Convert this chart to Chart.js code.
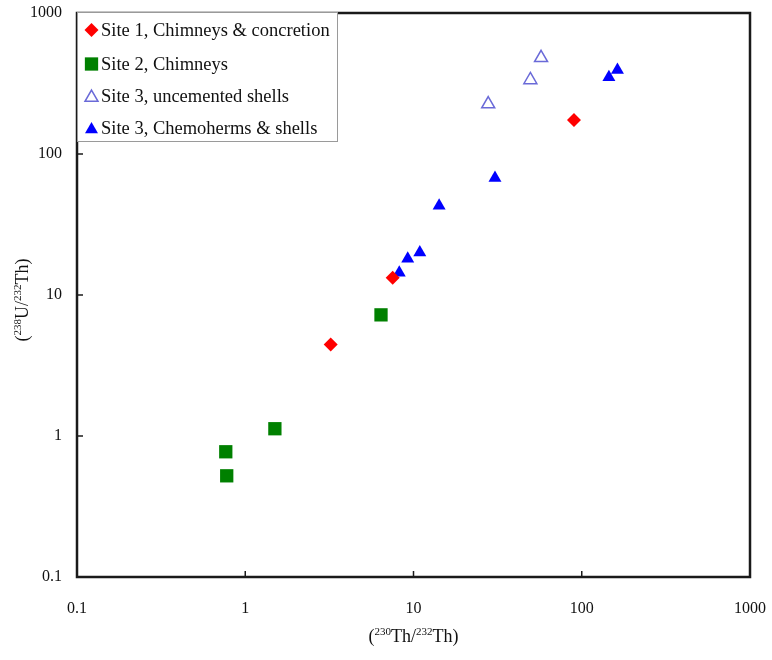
<!DOCTYPE html>
<html>
<head>
<meta charset="utf-8">
<script src="https://cdn.jsdelivr.net/npm/chart.js@4.4.1/dist/chart.umd.min.js"></script>
<style>
  html, body { margin: 0; padding: 0; background: #fff; }
  #wrap { width: 772px; height: 660px; }
</style>
</head>
<body>
<div id="wrap"><canvas id="chart" width="772" height="660"></canvas></div>
<script>
/* ---------- DATA ---------- */
const site1X = [3.22, 7.52, 89.9];
const site1Y = [4.45, 13.25, 174];
const site2X = [0.766, 0.776, 1.50, 6.41];
const site2Y = [0.773, 0.522, 1.126, 7.23];
const site3uX = [27.8, 49.5, 57.3];
const site3uY = [226, 335, 481];
const site3cX = [8.23, 9.24, 10.9, 14.2, 30.5, 145, 163];
const site3cY = [14.4, 18.1, 20.0, 42.9, 67.5, 350, 395];
const tickValues = [0.1, 1, 10, 100, 1000];
const seriesNames = [
  'Site 1, Chimneys & concretion',
  'Site 2, Chimneys',
  'Site 3, uncemented shells',
  'Site 3, Chemoherms & shells'
];

const pts = (xs, ys) => xs.map((x, i) => ({ x, y: ys[i] }));
const FONT = "'Liberation Serif', 'Times New Roman', serif";

/* ---------- HELPERS ---------- */
// draw text made of normal + superscript parts, centred on (cx, cy)
function drawSupText(ctx, parts, cx, cy, size) {
  const supSize = Math.round(size * 0.62);
  let total = 0;
  parts.forEach(p => {
    ctx.font = `${p.sup ? supSize : size}px ${FONT}`;
    p.w = ctx.measureText(p.t).width;
    total += p.w;
  });
  let x = cx - total / 2;
  ctx.textAlign = 'left';
  ctx.textBaseline = 'alphabetic';
  parts.forEach(p => {
    ctx.font = `${p.sup ? supSize : size}px ${FONT}`;
    ctx.fillText(p.t, x, cy + size * 0.35 - (p.sup ? size * 0.42 : 0));
    x += p.w;
  });
}

/* ---------- FRAME + INNER TICKS ---------- */
const framePlugin = {
  id: 'frame',
  beforeDatasetsDraw(chart) {
    const { ctx, chartArea: a, scales } = chart;
    ctx.save();
    ctx.strokeStyle = '#1a1a1a';
    ctx.lineWidth = 1.5;
    tickValues.forEach(v => {
      const x = scales.x.getPixelForValue(v);
      ctx.beginPath(); ctx.moveTo(x, a.bottom); ctx.lineTo(x, a.bottom - 6); ctx.stroke();
      const y = scales.y.getPixelForValue(v);
      ctx.beginPath(); ctx.moveTo(a.left, y); ctx.lineTo(a.left + 6, y); ctx.stroke();
    });
    ctx.lineWidth = 2.5;
    ctx.strokeRect(a.left, a.top, a.right - a.left, a.bottom - a.top);

    // axis titles
    ctx.fillStyle = '#111';
    drawSupText(ctx, [
      { t: '(' }, { t: '230', sup: true }, { t: 'Th/' }, { t: '232', sup: true }, { t: 'Th)' }
    ], (a.left + a.right) / 2, 636, 18);
    ctx.save();
    ctx.translate(22, 300);
    ctx.rotate(-Math.PI / 2);
    drawSupText(ctx, [
      { t: '(' }, { t: '238', sup: true }, { t: 'U/' }, { t: '232', sup: true }, { t: 'Th)' }
    ], 0, 0, 18);
    ctx.restore();
    ctx.restore();
  }
};

/* ---------- LEGEND BOX ---------- */
const legendPlugin = {
  id: 'boxLegend',
  afterDatasetsDraw(chart) {
    const { ctx } = chart;
    ctx.save();
    ctx.fillStyle = '#fff';
    ctx.fillRect(77, 12, 261, 130);
    ctx.strokeStyle = '#9a9a9a';
    ctx.lineWidth = 1;
    ctx.strokeRect(77.5, 12.5, 260, 129);
    const rows = [30, 64, 96, 128];
    chart.data.datasets.forEach((ds, i) => {
      ctx.fillStyle = ds.backgroundColor;
      ctx.strokeStyle = ds.borderColor;
      ctx.lineWidth = ds.borderWidth;
      Chart.helpers.drawPoint(ctx, {
        pointStyle: ds.pointStyle, radius: ds.pointRadius, rotation: 0, borderWidth: ds.borderWidth
      }, 91.5, rows[i] + (ds.pointStyle === 'triangle' ? 1.5 : 0));
      ctx.fillStyle = '#111';
      ctx.font = `18.5px ${FONT}`;
      ctx.textAlign = 'left';
      ctx.textBaseline = 'middle';
      ctx.fillText(ds.label, 101, rows[i] + 1);
    });
    ctx.restore();
  }
};

/* ---------- CHART ---------- */
const axisBase = {
  type: 'logarithmic',
  min: 0.1,
  max: 1000,
  grid: { display: false },
  border: { display: false },
  afterBuildTicks: s => { s.ticks = tickValues.map(v => ({ value: v, major: true })); },
  ticks: {
    color: '#111',
    font: { family: FONT, size: 16 },
    autoSkip: false,
    maxRotation: 0,
    callback: v => String(v)
  }
};

new Chart(document.getElementById('chart'), {
  type: 'scatter',
  data: {
    datasets: [
      {
        label: seriesNames[0],
        data: pts(site1X, site1Y),
        pointStyle: 'rectRot',
        pointRadius: 7,
        backgroundColor: '#ff0000',
        borderColor: '#ff0000',
        borderWidth: 0
      },
      {
        label: seriesNames[1],
        data: pts(site2X, site2Y),
        pointStyle: 'rect',
        pointRadius: 9.4,
        backgroundColor: '#008000',
        borderColor: '#008000',
        borderWidth: 0
      },
      {
        label: seriesNames[2],
        data: pts(site3uX, site3uY),
        pointStyle: 'triangle',
        pointRadius: 7.5,
        backgroundColor: '#ffffff',
        borderColor: '#6a6ad8',
        borderWidth: 1.5
      },
      {
        label: seriesNames[3],
        data: pts(site3cX, site3cY),
        pointStyle: 'triangle',
        pointRadius: 7.5,
        backgroundColor: '#0000ff',
        borderColor: '#0000ff',
        borderWidth: 0
      }
    ]
  },
  options: {
    responsive: false,
    animation: false,
    layout: { padding: { top: 13, right: 22, left: 0, bottom: 0 } },
    plugins: { legend: { display: false }, tooltip: { enabled: false } },
    elements: { point: { hoverRadius: 7 } },
    scales: {
      x: {
        ...axisBase,
        position: 'bottom',
        ticks: { ...axisBase.ticks, padding: 14 },
        afterFit: s => { s.height = 83; s.paddingLeft = 0; s.paddingRight = 0; }
      },
      y: {
        ...axisBase,
        position: 'left',
        ticks: { ...axisBase.ticks, padding: 7 },
        afterFit: s => { s.width = 77; s.paddingTop = 0; s.paddingBottom = 0; }
      }
    }
  },
  plugins: [framePlugin, legendPlugin]
});
</script>
</body>
</html>
